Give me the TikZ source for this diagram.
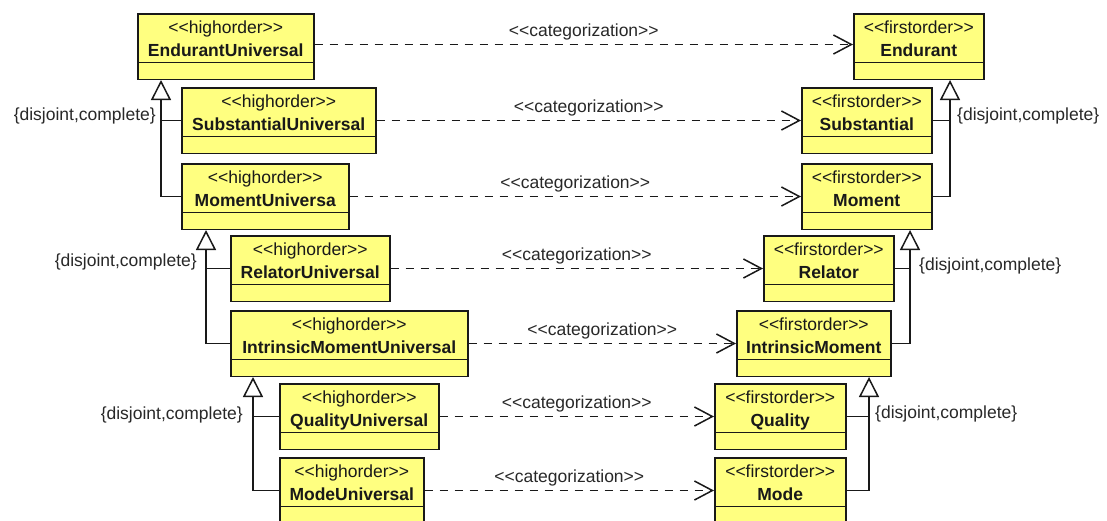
\documentclass[tikz,border=0pt]{standalone}
\usepackage{fontspec}
\setmainfont{Liberation Sans}[Ligatures=TeXOff]
\usetikzlibrary{arrows.meta}
\definecolor{clsfill}{RGB}{255,255,128}
\definecolor{ink}{RGB}{25,25,25}
\definecolor{labink}{RGB}{40,40,40}
\tikzset{
  clsbox/.style={rectangle, draw=ink, fill=clsfill, line width=1.5pt, anchor=north west, minimum height=65.5pt, inner sep=0pt},
  stereo/.style={anchor=base, inner sep=0pt, text=ink, font=\fontsize{17.5}{20}\selectfont},
  cname/.style={anchor=base, inner sep=0pt, text=ink, font=\fontsize{17.5}{20}\selectfont\bfseries},
  divider/.style={draw=ink, line width=1.5pt},
  genline/.style={draw=ink, line width=1.5pt},
  gentip/.style={genline, -{Triangle[open, length=20pt, width=20pt, line width=1.5pt]}},
  catline/.style={draw=ink, line width=1.5pt, dash pattern=on 8pt off 7pt, -{Straight Barb[length=18pt, width=19pt, line width=1.5pt]}},
  catlabel/.style={midway, anchor=base, yshift=8.5pt, inner sep=0pt, text=labink, font=\fontsize{17.5}{20}\selectfont},
  gslabel/.style={inner sep=0pt, text=labink, font=\fontsize{17.5}{20}\selectfont},
}
\newcommand\umlcls[6]{%
  \node[clsbox, minimum width=#4pt] (#1) at (#2,#3) {};
  \node[stereo] (#1-st) at ([yshift=-20pt]#1.north) {#5};
  \node[cname] (#1-nm) at ([yshift=-43.5pt]#1.north) {#6};
  \draw[divider] ([yshift=-49.5pt]#1.north west) -- ([yshift=-49.5pt]#1.north east);
}
\begin{document}
\begin{tikzpicture}[x=1pt,y=-1pt]
\useasboundingbox (0,0) rectangle (1107,520);
\clip (0,0) rectangle (1107,520);
\fill[white] (0,0) rectangle (1107,520);

% left: higher-order universals
\umlcls{eu}{137}{13}{176}{<<highorder>>}{EndurantUniversal}
\umlcls{su}{181}{87}{194}{<<highorder>>}{SubstantialUniversal}
\umlcls{mu}{181}{163}{167}{<<highorder>>}{MomentUniversa}
\umlcls{ru}{230}{235}{159}{<<highorder>>}{RelatorUniversal}
\umlcls{imu}{230}{310}{237}{<<highorder>>}{IntrinsicMomentUniversal}
\umlcls{qu}{279}{383}{159}{<<highorder>>}{QualityUniversal}
\umlcls{mou}{279}{457}{144}{<<highorder>>}{ModeUniversal}

% right: first-order types
\umlcls{en}{853}{13}{130}{<<firstorder>>}{Endurant}
\umlcls{sb}{801}{87}{130}{<<firstorder>>}{Substantial}
\umlcls{mo}{801}{163}{130}{<<firstorder>>}{Moment}
\umlcls{re}{763}{235}{130}{<<firstorder>>}{Relator}
\umlcls{im}{736}{310}{154}{<<firstorder>>}{IntrinsicMoment}
\umlcls{qa}{714}{383}{131}{<<firstorder>>}{Quality}
\umlcls{md}{714}{457}{131}{<<firstorder>>}{Mode}

% generalization trunks
\coordinate (g1) at (161,0);
\coordinate (g2) at (206,0);
\coordinate (g3) at (253,0);
\coordinate (g4) at (950,0);
\coordinate (g5) at (910,0);
\coordinate (g6) at (869,0);

\draw[gentip] (mu.west) -| (g1 |- eu.south);
\draw[genline] (su.west) -- (su.west -| g1);
\draw[gentip] (imu.west) -| (g2 |- mu.south);
\draw[genline] (ru.west) -- (ru.west -| g2);
\draw[gentip] (mou.west) -| (g3 |- imu.south);
\draw[genline] (qu.west) -- (qu.west -| g3);

\draw[gentip] (mo.east) -| (g4 |- en.south);
\draw[genline] (sb.east) -- (sb.east -| g4);
\draw[gentip] (im.east) -| (g5 |- mo.south);
\draw[genline] (re.east) -- (re.east -| g5);
\draw[gentip] (md.east) -| (g6 |- im.south);
\draw[genline] (qa.east) -- (qa.east -| g6);

% generalization set labels
\node[gslabel, anchor=base east] (gs1) at (156,120) {\{disjoint,complete\}};
\node[gslabel, anchor=base east] (gs2) at (197,266) {\{disjoint,complete\}};
\node[gslabel, anchor=base east] (gs3) at (243,419) {\{disjoint,complete\}};
\node[gslabel, anchor=base west] (gs4) at (957,120) {\{disjoint,complete\}};
\node[gslabel, anchor=base west] (gs5) at (919,270) {\{disjoint,complete\}};
\node[gslabel, anchor=base west] (gs6) at (875,418) {\{disjoint,complete\}};

% categorization dependencies
\draw[catline] ([yshift=2pt]eu.east) -- node[catlabel] (c1) {<<categorization>>} ([yshift=2pt]en.west);
\draw[catline] (su.east) -- node[catlabel] (c2) {<<categorization>>} (sb.west);
\draw[catline] (mu.east) -- node[catlabel] (c3) {<<categorization>>} (mo.west);
\draw[catline] (ru.east) -- node[catlabel] (c4) {<<categorization>>} (re.west);
\draw[catline] (imu.east) -- node[catlabel] (c5) {<<categorization>>} (im.west);
\draw[catline] (qu.east) -- node[catlabel] (c6) {<<categorization>>} (qa.west);
\draw[catline] (mou.east) -- node[catlabel] (c7) {<<categorization>>} (md.west);
\end{tikzpicture}
\end{document}
